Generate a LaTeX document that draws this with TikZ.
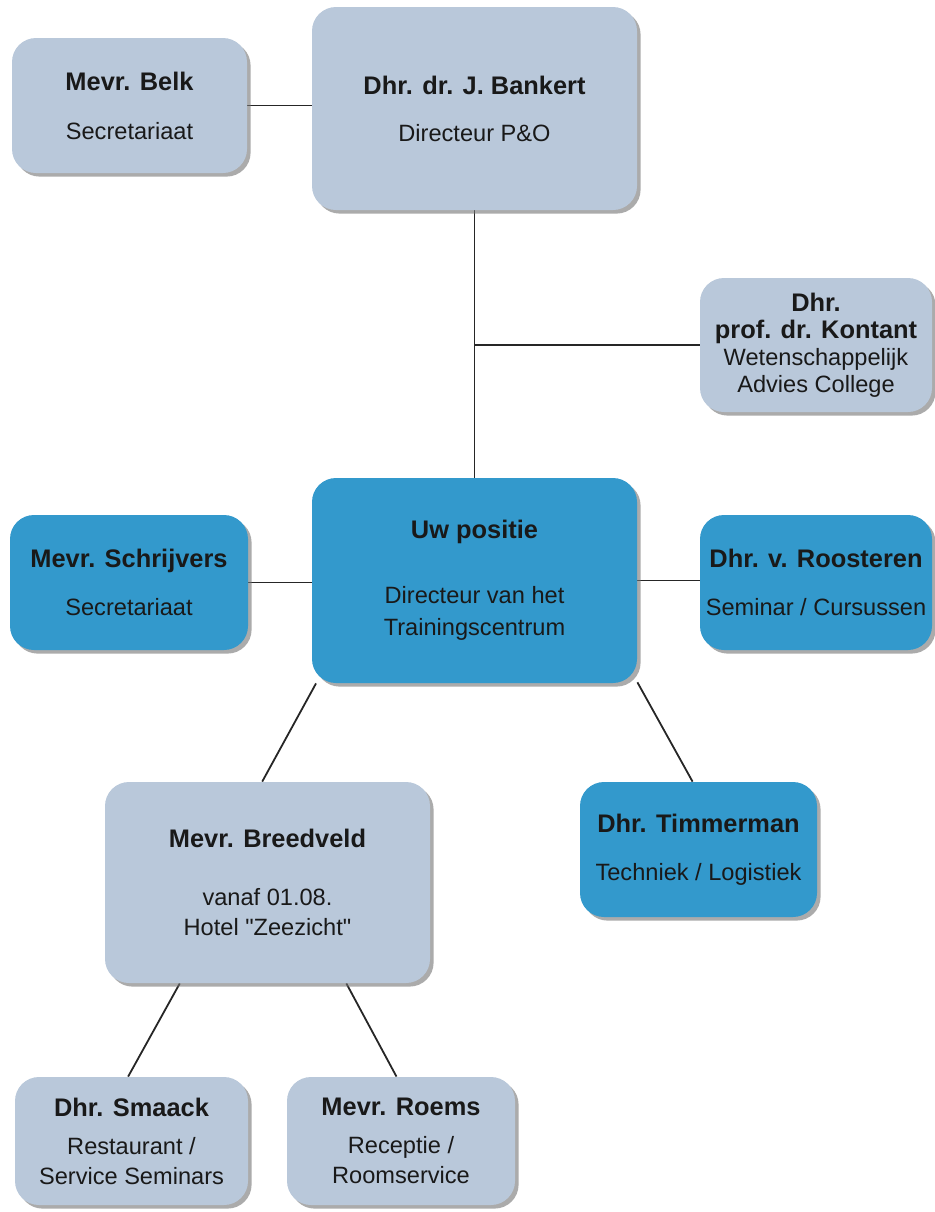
\documentclass[tikz,border=0pt]{standalone}
\usepackage{fontspec}
\setmainfont{Liberation Sans}
\usetikzlibrary{shadows,backgrounds}

\definecolor{boxlight}{RGB}{185,200,218}
\definecolor{boxdark}{RGB}{51,153,204}
\newcommand{\naam}[1]{{\fontsize{12.7}{15}\selectfont\bfseries #1}}

\begin{document}
\begin{tikzpicture}[x=0.5pt,y=-0.5pt,
    box/.style={rounded corners=12pt, inner sep=0pt, align=center, text=black!90,
        font=\fontsize{11.8}{15}\selectfont,
        drop shadow={shadow xshift=1.8pt, shadow yshift=-1.8pt, fill=black!55, opacity=0.6}},
    light/.style={box, fill=boxlight},
    dark/.style={box, fill=boxdark},
    link/.style={line width=0.9pt, black!85}]
    \useasboundingbox (0,0) rectangle (934,1212);

    % bovenste rij
    \node[light, minimum width=117.5pt, minimum height=67.5pt] (belk) at (129.5,105.5)
        {\naam{Mevr. Belk}\\[9.5pt]Secretariaat};
    \node[light, minimum width=162.5pt, minimum height=101.5pt] (bank) at (474.5,108.5)
        {\naam{Dhr. dr. J. Bankert}\\[8.5pt]Directeur P\&O};
    \node[light, minimum width=116pt, minimum height=67pt] (kontant) at (816,345)
        {\naam{Dhr.}\\[-1.5pt]\naam{prof. dr. Kontant}\\[-1.5pt]Wetenschappelijk\\[-1.5pt]Advies College};

    % middelste rij
    \node[dark, minimum width=162.5pt, minimum height=102.5pt] (uw) at (474.5,580.5)
        {\naam{Uw positie}\\[17.5pt]Directeur van het\\[1pt]Trainingscentrum};
    \node[dark, minimum width=119pt, minimum height=67.5pt] (schrijvers) at (129,582.5)
        {\naam{Mevr. Schrijvers}\\[9pt]Secretariaat};
    \node[dark, minimum width=116pt, minimum height=67.5pt] (roosteren) at (816,582.5)
        {\naam{Dhr. v. Roosteren}\\[9pt]Seminar / Cursussen};

    % onderste rijen
    \node[light, minimum width=162.5pt, minimum height=100.5pt] (breedveld) at (267.5,882.5)
        {\naam{Mevr. Breedveld}\\[14pt]vanaf 01.08.\\Hotel \textquotedbl Zeezicht\textquotedbl};
    \node[dark, minimum width=118.5pt, minimum height=67.5pt] (timmerman) at (698.5,849.5)
        {\naam{Dhr. Timmerman}\\[9pt]Techniek / Logistiek};
    \node[light, minimum width=116.5pt, minimum height=64pt] (smaack) at (131.5,1141)
        {\naam{Dhr. Smaack}\\[4pt]Restaurant /\\Service Seminars};
    \node[light, minimum width=114pt, minimum height=64pt] (roems) at (401,1141)
        {\naam{Mevr. Roems}\\[4pt]Receptie /\\Roomservice};

    % verbindingen
    \begin{scope}[on background layer]
        \draw[link] (belk.east) -- (belk.east -| bank.west);
        \draw[link] (bank.south) -- (uw.north);
        \coordinate (knik) at (bank.south |- kontant.west);
        \draw[link] (knik) -- (kontant.west);
        \draw[link] (schrijvers.east) -- (schrijvers.east -| uw.west);
        \draw[link] (uw.east) -- (uw.east -| roosteren.west);
        \draw[link] (uw.-147) -- (breedveld.93);
        \draw[link] (uw.-32) -- (timmerman.95);
        \draw[link] (breedveld.-131) -- (smaack.93);
        \draw[link] (breedveld.-52) -- (roems.94);
    \end{scope}
\end{tikzpicture}
\end{document}
